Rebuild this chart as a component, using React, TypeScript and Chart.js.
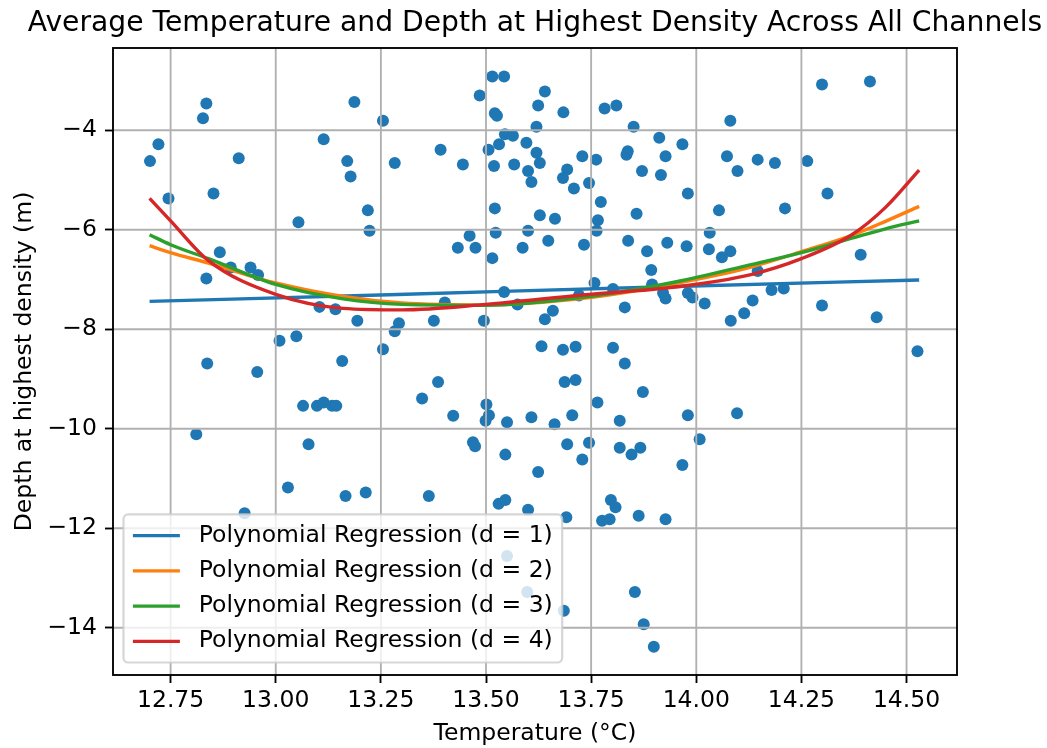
import React, { useEffect, useRef } from 'react';
import { Chart, registerables } from 'chart.js';

Chart.register(...registerables);

// ---------------- data ----------------
const temperature = [
  12.835, 12.827, 12.721, 12.701, 12.912, 12.745, 12.852, 13.187, 13.255, 13.114,
  13.170, 13.283, 13.178, 13.219, 13.223, 13.054, 12.867,
  13.515, 13.543, 13.485, 13.640, 13.624, 13.521, 13.526, 13.684, 13.782, 13.810,
  13.620, 13.851, 13.912, 13.967, 13.545, 13.564, 13.531, 13.506, 13.596, 13.392,
  13.445, 13.519, 13.567, 13.620, 13.628, 13.600, 13.608, 13.693, 13.683, 13.729,
  13.762, 13.837, 13.834, 13.927, 13.871, 13.916, 13.709, 13.745, 13.773, 13.521,
  13.628, 13.664, 13.766, 13.763, 13.858, 13.523, 13.600, 13.461, 13.433, 13.475,
  13.587, 13.648, 13.733, 13.838, 13.883, 13.931, 13.515,
  13.893, 13.758, 13.802, 13.895, 13.921, 13.927, 13.721, 13.543, 13.402, 13.575,
  13.659, 13.640, 13.830, 13.376, 13.495, 13.293, 13.283, 13.632, 13.683, 13.713,
  13.802, 13.830, 13.386, 13.348, 13.687, 13.713, 13.873, 13.765, 13.501, 13.507,
  13.499, 13.422, 13.550, 13.608, 13.663, 13.705, 13.818, 13.469, 13.474, 13.546,
  13.693, 13.745, 13.729, 13.818, 13.846, 13.867, 13.967,
  12.835, 12.893, 12.940, 12.958, 13.104, 13.142, 13.194, 13.009, 13.049, 13.255,
  12.837, 12.956, 13.158, 13.065, 13.098, 13.114, 13.134, 13.144, 12.811, 13.078,
  14.146, 13.980, 13.991, 14.020, 14.082, 14.114, 14.134, 14.179, 14.208, 14.299,
  14.429, 14.526, 13.980, 14.097, 14.008,
  14.299, 14.413, 14.081, 14.073, 14.146, 14.187, 14.264, 14.098, 13.980, 14.312,
  14.054, 14.211, 14.032, 13.977, 14.030, 14.081, 14.061, 14.391,
  13.029, 13.166, 13.214, 12.926,
  13.364, 13.624, 13.530, 13.546, 13.600, 13.691, 13.797, 13.808, 13.776, 13.794,
  13.863, 13.927, 13.550, 13.598, 13.685, 13.854, 13.875, 13.899,
];

const depth = [
  -3.46, -3.76, -4.28, -4.62, -4.56, -5.37, -5.27, -3.43, -3.81, -4.18,
  -4.62, -4.66, -4.93, -5.61, -6.02, -5.85, -6.45,
  -2.92, -2.92, -3.30, -3.22, -3.50, -3.66, -3.71, -3.64, -3.56, -3.50,
  -3.93, -3.93, -4.15, -4.28, -4.08, -4.11, -4.28, -4.39, -4.25, -4.39,
  -4.69, -4.72, -4.69, -4.45, -4.66, -4.82, -5.04, -4.79, -4.96, -4.52,
  -4.59, -4.42, -4.49, -4.52, -4.82, -4.90, -5.17, -5.06, -5.44, -5.57,
  -5.71, -5.78, -5.81, -6.02, -5.68, -6.06, -6.02, -6.12, -6.36, -6.36,
  -6.36, -6.22, -6.30, -6.22, -6.43, -6.26, -6.57,
  -6.81, -7.07, -7.19, -7.10, -7.27, -7.38, -7.32, -7.25, -7.46, -7.50,
  -7.63, -7.80, -7.56, -7.83, -7.83, -7.88, -8.04, -8.34, -8.41, -8.35,
  -8.37, -8.69, -9.06, -9.39, -9.06, -9.02, -9.26, -9.47, -9.51, -9.73,
  -9.84, -9.74, -9.87, -9.77, -9.91, -9.73, -9.84, -10.27, -10.35, -10.52,
  -10.31, -10.28, -10.62, -10.38, -10.52, -10.38, -10.73,
  -6.98, -6.76, -6.76, -6.91, -7.55, -7.60, -7.83, -8.23, -8.14, -8.40,
  -8.69, -8.86, -8.64, -9.54, -9.54, -9.47, -9.54, -9.54, -10.11, -10.31,
  -6.83, -7.27, -7.36, -7.48, -7.83, -7.68, -7.42, -7.21, -7.18, -7.52,
  -7.76, -8.44, -9.73, -9.69, -10.21,
  -3.08, -3.02, -3.81, -4.52, -4.59, -4.66, -4.62, -4.82, -5.27, -5.27,
  -5.61, -5.57, -6.06, -6.33, -6.39, -6.43, -6.55, -6.50,
  -11.18, -11.35, -11.28, -11.70,
  -11.35, -10.87, -11.51, -11.43, -11.63, -11.78, -11.43, -11.58, -11.85, -11.82,
  -11.75, -11.82, -12.56, -13.28, -13.66, -13.28, -13.93, -14.38,
];

// regression curves
const fitD1Temps = [12.70, 13.29, 13.95, 14.53];
const fitD1 = [-7.44, -7.30, -7.14, -7.01];
const curveTemps = [12.70, 12.75, 12.84, 13.00, 13.16, 13.30, 13.50, 13.73, 13.95, 14.13, 14.25, 14.37, 14.45, 14.53];
const fitD2 = [-6.32, -6.46, -6.67, -7.07, -7.34, -7.47, -7.51, -7.38, -7.08, -6.75, -6.44, -6.11, -5.83, -5.53];
const fitD3 = [-6.10, -6.30, -6.58, -7.10, -7.39, -7.50, -7.52, -7.36, -7.05, -6.70, -6.46, -6.17, -5.98, -5.82];
const fitD4 = [-5.37, -5.82, -6.62, -7.30, -7.58, -7.61, -7.50, -7.31, -7.15, -6.90, -6.58, -6.10, -5.55, -4.80];

const seriesLabels = [
  'Polynomial Regression (d = 1)',
  'Polynomial Regression (d = 2)',
  'Polynomial Regression (d = 3)',
  'Polynomial Regression (d = 4)',
];
const seriesColors = ['#1f77b4', '#ff7f0e', '#2ca02c', '#d62728'];
const scatterColor = '#1f77b4';

const xTickValues = [12.75, 13.0, 13.25, 13.5, 13.75, 14.0, 14.25, 14.5];
const yTickValues = [-14, -12, -10, -8, -6, -4];

const titleText = 'Average Temperature and Depth at Highest Density Across All Channels';
const xLabel = 'Temperature (°C)';
const yLabel = 'Depth at highest density (m)';

// axis limits
const X_MIN = 12.613;
const X_MAX = 14.62;
const Y_MIN = -14.95;
const Y_MAX = -2.346;

// ---------------- styling ----------------
const FAMILY = "'DejaVu Sans', sans-serif";
const FS = 23.5;
const TITLE_FS = 28.2;

const overlayPlugin = {
  id: 'mplOverlay',
  afterDatasetDraw(chart: any, args: any) {
    if (args.index !== 0) return;
    const { ctx, chartArea: a, scales } = chart;
    ctx.save();
    ctx.beginPath();
    ctx.rect(a.left, a.top, a.right - a.left, a.bottom - a.top);
    ctx.clip();
    ctx.strokeStyle = '#b0b0b0';
    ctx.lineWidth = 1.86;
    for (const t of scales.x.ticks) {
      const px = scales.x.getPixelForValue(t.value);
      ctx.beginPath();
      ctx.moveTo(px, a.top);
      ctx.lineTo(px, a.bottom);
      ctx.stroke();
    }
    for (const t of scales.y.ticks) {
      const py = scales.y.getPixelForValue(t.value);
      ctx.beginPath();
      ctx.moveTo(a.left, py);
      ctx.lineTo(a.right, py);
      ctx.stroke();
    }
    ctx.restore();
  },
  afterDraw(chart: any) {
    const { ctx, chartArea: a } = chart;
    ctx.save();
    // frame (spines)
    ctx.strokeStyle = '#000';
    ctx.lineWidth = 1.86;
    ctx.strokeRect(a.left, a.top, a.right - a.left, a.bottom - a.top);

    // legend
    ctx.font = `${FS}px ${FAMILY}`;
    const items = chart.data.datasets.slice(1);
    const pad = 0.4 * FS;
    const handle = 2 * FS;
    const tpad = 0.8 * FS;
    const lsp = 0.5 * FS;
    const textW = Math.max(...items.map((d: any) => ctx.measureText(d.label).width));
    const w = 2 * pad + handle + tpad + textW;
    const h = 2 * pad + items.length * FS + (items.length - 1) * lsp;
    const x0 = a.left + 10.5;
    const y0 = a.bottom - 12.5 - h;
    const r = 0.2 * FS;
    ctx.beginPath();
    ctx.moveTo(x0 + r, y0);
    ctx.lineTo(x0 + w - r, y0);
    ctx.arcTo(x0 + w, y0, x0 + w, y0 + r, r);
    ctx.lineTo(x0 + w, y0 + h - r);
    ctx.arcTo(x0 + w, y0 + h, x0 + w - r, y0 + h, r);
    ctx.lineTo(x0 + r, y0 + h);
    ctx.arcTo(x0, y0 + h, x0, y0 + h - r, r);
    ctx.lineTo(x0, y0 + r);
    ctx.arcTo(x0, y0, x0 + r, y0, r);
    ctx.closePath();
    ctx.fillStyle = 'rgba(255,255,255,0.8)';
    ctx.fill();
    ctx.strokeStyle = 'rgba(204,204,204,0.8)';
    ctx.lineWidth = 2.2;
    ctx.stroke();
    items.forEach((d: any, i: number) => {
      const cy = y0 + pad + FS / 2 + i * (FS + lsp);
      ctx.strokeStyle = d.borderColor;
      ctx.lineWidth = 3.4;
      ctx.beginPath();
      ctx.moveTo(x0 + pad, cy);
      ctx.lineTo(x0 + pad + handle, cy);
      ctx.stroke();
      ctx.fillStyle = '#000';
      ctx.textAlign = 'left';
      ctx.textBaseline = 'middle';
      ctx.fillText(d.label, x0 + pad + handle + tpad, cy);
    });

    // title
    ctx.font = `${TITLE_FS}px ${FAMILY}`;
    ctx.fillStyle = '#000';
    ctx.textAlign = 'center';
    ctx.textBaseline = 'alphabetic';
    ctx.fillText(titleText, (a.left + a.right) / 2, 31);
    ctx.restore();
  },
};

const fmtY = (v: number) => (v < 0 ? '\u2212' + Math.abs(v) : String(v));

export default function App() {
  const ref = useRef<HTMLCanvasElement>(null);

  useEffect(() => {
    document.body.style.margin = '0';
    const canvas = ref.current;
    if (!canvas) return;
    Chart.defaults.font.family = FAMILY;
    Chart.defaults.color = '#000';

    const scatterData = temperature.map((t, i) => ({ x: t, y: depth[i] }));
    const fits = [fitD1, fitD2, fitD3, fitD4];
    const fitTemps = [fitD1Temps, curveTemps, curveTemps, curveTemps];
    const lineSets = fits.map((vals, k) => ({
      label: seriesLabels[k],
      data: vals.map((v, i) => ({ x: fitTemps[k][i], y: v })),
      showLine: true,
      borderColor: seriesColors[k],
      backgroundColor: seriesColors[k],
      borderWidth: 3.4,
      pointRadius: 0,
      cubicInterpolationMode: 'monotone' as const,
      fill: false,
      order: 4 - k,
    }));

    const chart = new Chart(canvas, {
      type: 'scatter',
      data: {
        datasets: [
          {
            label: 'data',
            data: scatterData,
            backgroundColor: scatterColor,
            borderWidth: 0,
            pointRadius: 6,
            order: 10,
          } as any,
          ...lineSets,
        ],
      },
      options: {
        responsive: false,
        animation: false,
        events: [],
        layout: { padding: { top: 48, right: 90, left: 0, bottom: 0 } },
        plugins: {
          legend: { display: false },
          tooltip: { enabled: false },
          title: { display: false },
        },
        scales: {
          x: {
            type: 'linear',
            min: X_MIN,
            max: X_MAX,
            afterBuildTicks: (s: any) => {
              s.ticks = xTickValues.map((v) => ({ value: v }));
            },
            afterFit: (s: any) => {
              s.height = 73;
            },
            ticks: {
              callback: (v: any) => Number(v).toFixed(2),
              color: '#000',
              font: { size: FS, family: FAMILY },
              padding: 4,
              maxRotation: 0,
              autoSkip: false,
            },
            grid: {
              drawOnChartArea: false,
              tickLength: 8,
              tickColor: '#000',
              tickWidth: 1.86,
              color: '#000',
            },
            border: { display: false },
            title: {
              display: true,
              text: xLabel,
              color: '#000',
              font: { size: FS, family: FAMILY },
              padding: { top: 0, bottom: 0 },
            },
          },
          y: {
            type: 'linear',
            min: Y_MIN,
            max: Y_MAX,
            afterBuildTicks: (s: any) => {
              s.ticks = yTickValues.map((v) => ({ value: v }));
            },
            afterFit: (s: any) => {
              s.width = 113;
            },
            ticks: {
              callback: (v: any) => fmtY(Number(v)),
              color: '#000',
              font: { size: FS, family: FAMILY },
              padding: 8,
              autoSkip: false,
            },
            grid: {
              drawOnChartArea: false,
              tickLength: 8,
              tickColor: '#000',
              tickWidth: 1.86,
              color: '#000',
            },
            border: { display: false },
            title: {
              display: true,
              text: yLabel,
              color: '#000',
              font: { size: FS, family: FAMILY },
              padding: { top: 11, bottom: 0 },
            },
          },
        },
      },
      plugins: [overlayPlugin],
    });

    return () => {
      chart.destroy();
    };
  }, []);

  return (
    <div style={{ width: 1047, height: 748 }}>
      <canvas ref={ref} width={1047} height={748} style={{ display: 'block' }} />
    </div>
  );
}
